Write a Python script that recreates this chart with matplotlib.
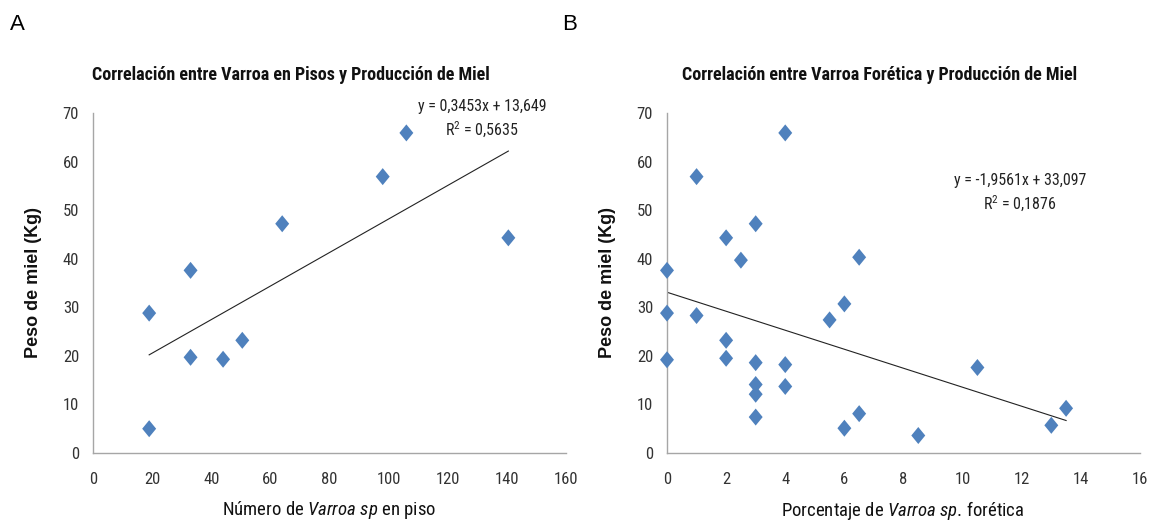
import numpy as np
import matplotlib
matplotlib.use("Agg")
import matplotlib.pyplot as plt

plt.rcParams['font.family'] = ['Roboto Condensed', 'DejaVu Sans']
plt.rcParams['mathtext.fontset'] = 'custom'
plt.rcParams['mathtext.rm'] = 'Roboto Condensed'
plt.rcParams['mathtext.it'] = 'Roboto Condensed:italic'
plt.rcParams['mathtext.bf'] = 'Roboto Condensed:bold'

# Panel A: Varroa count on floor vs honey weight
varroa_piso = [19, 19, 33, 33, 44, 50.5, 64, 98, 106, 140.5]
miel_a = [5.0, 28.8, 37.6, 19.7, 19.3, 23.2, 47.2, 56.9, 65.9, 44.3]
coef_a = (0.3453, 13.649)
eq_a = "y = 0,3453x + 13,649"
r2_a = "R$^2$ = 0,5635"

# Panel B: phoretic Varroa percentage vs honey weight
varroa_foretica = [0, 0, 0, 1, 1, 2, 2, 2, 2.5, 3, 3, 3, 3, 3, 4, 4, 4,
                   5.5, 6, 6, 6.5, 6.5, 8.5, 10.5, 13, 13.5]
miel_b = [37.6, 28.8, 19.2, 28.3, 56.9, 23.2, 19.5, 44.3, 39.7, 47.2, 18.6, 14.1, 12.1, 7.4, 65.9, 18.2, 13.7,
          27.4, 30.7, 5.1, 8.1, 40.3, 3.6, 17.6, 5.7, 9.2]
coef_b = (-1.9561, 33.097)
eq_b = "y = -1,9561x + 33,097"
r2_b = "R$^2$ = 0,1876"

W, H = 1155, 521
fig = plt.figure(figsize=(W / 100, H / 100), dpi=100)

blue = '#4F81BD'
axis_gray = '#A6A6A6'
diamond = [(0, 1), (0.82, 0), (0, -1), (-0.82, 0), (0, 1)]


def make_panel(left_px, x, y, coef, xmax, xstep, title, title_cx, xlabel, eq, r2, eq_pos, letter, letter_x):
    ax = fig.add_axes([left_px / W, (H - 453) / H, 473 / W, 340 / H])
    ax.scatter(x, y, marker=diamond, s=150, color=blue, edgecolors='none', zorder=3, clip_on=False)
    xs = np.array([min(x), max(x)])
    ax.plot(xs, coef[0] * xs + coef[1], color='#222222', lw=0.8, zorder=2)
    ax.set_xlim(0, xmax)
    ax.set_ylim(0, 70)
    ax.set_xticks(np.arange(0, xmax + 0.1, xstep))
    ax.set_yticks(np.arange(0, 71, 10))
    for s in ['top', 'right']:
        ax.spines[s].set_visible(False)
    for s in ['left', 'bottom']:
        ax.spines[s].set_color(axis_gray)
        ax.spines[s].set_linewidth(1.0)
    ax.tick_params(length=0, labelsize=12, colors='#333333')
    ax.tick_params(axis='x', pad=14)
    ax.tick_params(axis='y', pad=10)
    ax.set_ylabel('Peso de miel (Kg)', family='Liberation Sans', fontweight='bold',
                  fontsize=13, color='#111111')
    ax.yaxis.set_label_coords(-51 / 473, 0.5)
    fig.text(title_cx / W, 1 - 75 / H, title, ha='center', va='center',
             fontsize=13, fontweight='bold', color='#111111')
    fig.text((left_px + 236) / W, 1 - 510 / H, xlabel, ha='center', va='center',
             fontsize=13.5, color='#111111')
    fig.text(eq_pos[0] / W, 1 - eq_pos[1] / H, eq, ha='center', va='center',
             fontsize=11.5, color='#222222')
    fig.text(eq_pos[0] / W, 1 - (eq_pos[1] + 23) / H, r2, ha='center', va='center',
             fontsize=11.5, color='#222222')
    fig.text(letter_x / W, 1 - 25 / H, letter, ha='left', va='center',
             family='Liberation Sans', fontsize=16, color='black')
    return ax


make_panel(93, varroa_piso, miel_a, coef_a, 160, 20,
           'Correlación entre Varroa en Pisos y Producción de Miel', 291,
           r'Número de $\mathit{Varroa\ sp}$ en piso', eq_a, r2_a, (482, 107), 'A', 10)
make_panel(667, varroa_foretica, miel_b, coef_b, 16, 2,
           'Correlación entre Varroa Forética y Producción de Miel', 880,
           r'Porcentaje de $\mathit{Varroa\ sp}$. forética', eq_b, r2_b, (1020, 181), 'B', 562)

fig.savefig('out.png', dpi=100)
